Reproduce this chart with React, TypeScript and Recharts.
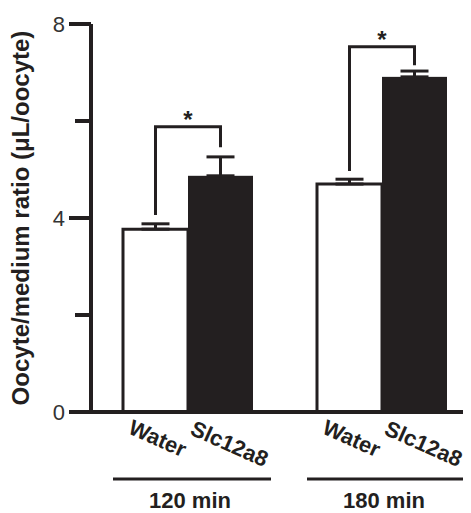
import React from "react";
import { BarChart, Bar, XAxis, YAxis, ErrorBar, Label } from "recharts";

const groups = ["120 min", "180 min"];
const seriesNames = ["Water", "Slc12a8"];
const waterMean = [3.77, 4.7];
const waterSem = [0.11, 0.1];
const slcMean = [4.87, 6.91];
const slcSem = [0.39, 0.12];
// significance brackets (in y units): left foot, top, right foot
const sigLeft = [4.06, 4.97];
const sigTop = [5.88, 7.53];
const sigRight = [5.46, 7.15];
const yTicks = [0, 2, 4, 6, 8];
const majorTicks = [0, 4, 8];
const yTitle = "Oocyte/medium ratio (μL/oocyte)";

const INK = "#231f20";
const FONT = "'Liberation Sans', Arial, Helvetica, sans-serif";

const data = groups.map((group, i) => ({
  group,
  water: waterMean[i],
  waterErr: [0, waterSem[i]],
  slc: slcMean[i],
  slcErr: [0, slcSem[i]],
  sigLeft: sigLeft[i],
  sigTop: sigTop[i],
  sigRight: sigRight[i],
}));

function SlcShape(props: any) {
  const { x, y, width, height, payload } = props;
  const base = y + height;
  const ppu = height / payload.slc;
  const left = x - width / 2;
  const right = x + width / 2;
  const top = base - payload.sigTop * ppu;
  return (
    <g>
      <rect x={x} y={y} width={width} height={height} fill={INK} />
      <path
        d={`M${left},${base - payload.sigLeft * ppu}V${top}H${right}V${base - payload.sigRight * ppu}`}
        fill="none"
        stroke={INK}
        strokeWidth={3}
      />
      <text
        x={(left + right) / 2}
        y={top + 1}
        textAnchor="middle"
        fontSize={24}
        fontWeight="bold"
        fill={INK}
        fontFamily={FONT}
      >
        *
      </text>
    </g>
  );
}

function GroupTick(props: any) {
  const { x, y, payload } = props;
  const lx = x - 61;
  const ly = y + 21;
  const sx = x + 1;
  const sy = y + 22;
  return (
    <g fontFamily={FONT} fill={INK} fontWeight="bold">
      <text x={lx} y={ly} fontSize={22} transform={`rotate(24 ${lx} ${ly})`}>
        {seriesNames[0]}
      </text>
      <text x={sx} y={sy} fontSize={22} transform={`rotate(24 ${sx} ${sy})`}>
        {seriesNames[1]}
      </text>
      <line x1={x - 75} x2={x + 83} y1={y + 67} y2={y + 67} stroke={INK} strokeWidth={3} />
      <text x={x + 2} y={y + 96} fontSize={22} textAnchor="middle">
        {payload.value}
      </text>
    </g>
  );
}

function ValueTick(props: any) {
  const { x, y, payload } = props;
  const major = majorTicks.includes(payload.value);
  return (
    <g>
      <line x1={x - (major ? 22 : 16)} x2={x} y1={y} y2={y} stroke={INK} strokeWidth={4} />
      {major && (
        <text x={x - 26} y={y + 8} textAnchor="end" fontSize={22} fill="#333" fontFamily={FONT}>
          {payload.value}
        </text>
      )}
    </g>
  );
}

function YTitle(props: any) {
  const vb = props.viewBox || {};
  const cx = (vb.x || 0) + 21;
  const cy = (vb.y || 0) + (vb.height || 0) / 2;
  return (
    <text
      x={cx}
      y={cy}
      textAnchor="middle"
      transform={`rotate(-90 ${cx} ${cy})`}
      fontSize={24}
      fontWeight="bold"
      fill={INK}
      fontFamily={FONT}
    >
      {yTitle}
    </text>
  );
}

export default function App() {
  return (
    <div style={{ width: 463, height: 505, overflow: "hidden", fontFamily: FONT }}>
      <BarChart
        width={480}
        height={505}
        data={data}
        margin={{ top: 16, right: 9, bottom: 1, left: 0 }}
        barGap={0}
        barSize={65}
      >
        <XAxis
          dataKey="group"
          height={100}
          interval={0}
          tickSize={0}
          tickMargin={0}
          tickLine={false}
          axisLine={{ stroke: INK, strokeWidth: 4 }}
          tick={<GroupTick />}
        />
        <YAxis
          width={83}
          domain={[0, 8]}
          ticks={yTicks}
          interval={0}
          tickSize={0}
          tickMargin={0}
          tickLine={false}
          axisLine={{ stroke: INK, strokeWidth: 4 }}
          tick={<ValueTick />}
        >
          <Label content={<YTitle />} />
        </YAxis>
        <Bar dataKey="water" fill="#fff" stroke={INK} strokeWidth={3} isAnimationActive={false}>
          <ErrorBar dataKey="waterErr" width={14} stroke={INK} strokeWidth={3} isAnimationActive={false} />
        </Bar>
        <Bar dataKey="slc" fill={INK} shape={<SlcShape />} isAnimationActive={false}>
          <ErrorBar dataKey="slcErr" width={14} stroke={INK} strokeWidth={3} isAnimationActive={false} />
        </Bar>
      </BarChart>
    </div>
  );
}
